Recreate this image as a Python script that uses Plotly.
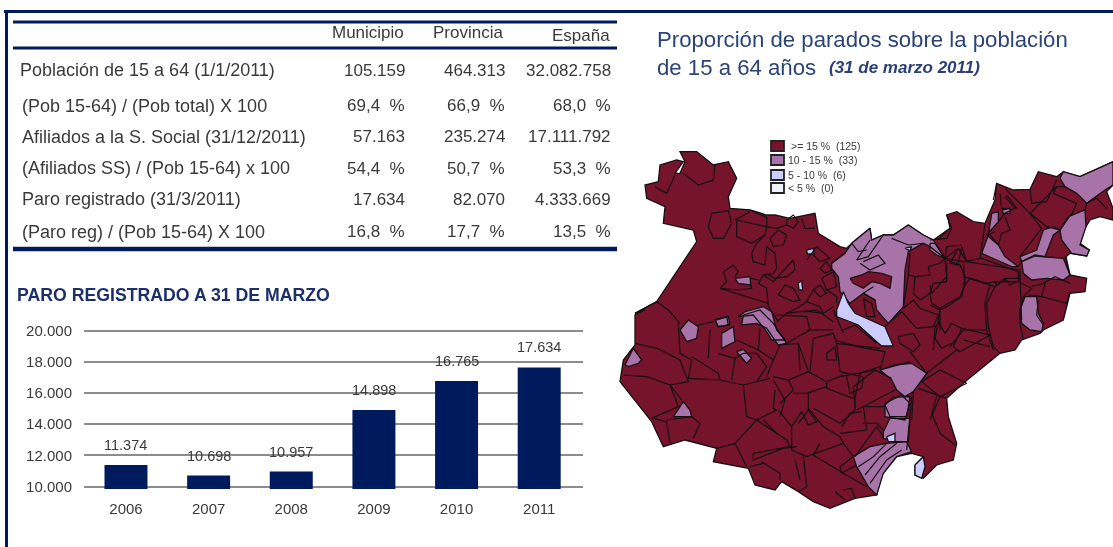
import plotly.graph_objects as go

W, H = 1113, 547
NAVY = "#001a5e"
TXT = "#3a3a3a"
DARK = "#75142b"
MID = "#a873a8"
LIGHT = "#ccccff"
PALE = "#f0f0ff"

# ---------- table ----------
TABLE_HEADERS = ["Municipio", "Provincia", "España"]
ROW_LABELS = ["Población de 15 a 64 (1/1/2011)", "(Pob 15-64) / (Pob total) X 100",
              "Afiliados a la S. Social (31/12/2011)", "(Afiliados SS) / (Pob 15-64) x 100",
              "Paro registrado (31/3/2011)", "(Paro reg) / (Pob 15-64) X 100"]
MUNICIPIO = ["105.159", "69,4  %", "57.163", "54,4  %", "17.634", "16,8  %"]
PROVINCIA = ["464.313", "66,9  %", "235.274", "50,7  %", "82.070", "17,7  %"]
ESPANA = ["32.082.758", "68,0  %", "17.111.792", "53,3  %", "4.333.669", "13,5  %"]

# ---------- bars ----------
YEARS = ["2006", "2007", "2008", "2009", "2010", "2011"]
PARO = [11374, 10698, 10957, 14898, 16765, 17634]
Y_TICKS = [10000, 12000, 14000, 16000, 18000, 20000]

# ---------- legend ----------
LEGEND_LABELS = [">= 15 %  (125)", "10 - 15 %  (33)", "5 - 10 %  (6)", "< 5 %  (0)"]

def view(origin, pts):
    return [(origin[0] + a / 3, origin[1] + b / 3) for a, b in pts]

VW, VC, VE, VS = (630, 140), (830, 220), (930, 150), (610, 310)

OUTLINE = (
    view(VW, [(15,520),(80,485),(140,395),(190,320),(200,305),(190,270),(100,250),(105,200),(50,175),(45,135),
              (85,125),(90,75),(140,60),(160,65),(135,100),(150,100),(165,65),(150,35),(200,35),(250,75),(295,65),
              (320,115),(295,170),(300,205),(360,210),(410,225),(435,225),(480,235),(555,220),(565,280),(630,320)])
    + view(VC, [(50,85),(70,65),(120,25),(125,60),(160,45),(190,45),(235,15),(280,45),(310,60),(360,25),(355,0)])
    + view(VE, [(50,195),(80,185),(130,215),(165,220),(195,150),(200,100),(250,120),(300,118),(325,65),(380,80),
                (400,65),(450,80),(549,35),(549,105),(530,125),(549,175),(549,210),(510,200),(480,210),(465,235),
                (450,280),(478,300),(470,318),(420,310),(408,320),(420,375),(470,385),(465,425),(420,430),(400,510),
                (340,540),(330,550),(275,570),(255,600)])
    + view(VS, [(1170,130),(1065,215),(1010,265),(1015,320),(1040,400),(1030,450),(980,465),(940,505),(915,495),
                (915,465),(940,440),(905,430),(860,440),(815,495),(800,555),(735,565),(660,595),(610,575),(565,545),
                (515,515),(495,540),(435,525),(415,475),(310,455),(320,415),(225,390),(160,410),(125,335),(30,215),
                (40,150),(75,105),(75,15),(105,0)])
)

MID_AREAS = [
    view(VE, [(390,85),(400,65),(450,80),(549,35),(549,105),(525,120),(470,160),(440,130),(405,110)]),
    view(VE, [(390,240),(415,200),(465,180),(468,230),(450,285),(478,300),(470,318),(425,310),(395,270)]),
    view(VE, [(270,320),(320,300),(340,240),(370,230),(390,240),(370,255),(345,320),(315,315),(275,335)]),
    view(VE, [(275,335),(315,318),(400,325),(420,375),(400,390),(350,385),(305,390),(280,370)]),
    view(VE, [(155,310),(175,255),(185,190),(205,185),(205,215),(170,255),(205,285),(225,320),(265,350),(245,350),(200,330)]),
    view(VE, [(215,180),(240,175),(240,190),(220,190)]),
    view(VE, [(270,480),(285,440),(320,440),(325,490),(340,520),(335,545),(300,540),(275,520)]),
    view(VE, [(0,280),(15,280),(45,325),(20,315),(0,300)]),
    view(VC, [(5,130),(45,100),(65,70),(120,25),(125,60),(160,45),(190,45),(235,15),(280,45),(310,60),(345,115),
              (300,80),(280,70),(235,95),(225,150),(220,260),(175,310),(140,270),(135,240),(100,220),(60,250),(30,215),(25,170),(5,145)]),
    view(VC, [(150,450),(195,435),(245,430),(290,460),(250,515),(225,530),(200,510),(185,480)]),
    view(VC, [(165,550),(215,525),(240,550),(225,600),(165,590)]),
    view(VW, [(315,415),(360,410),(362,435),(325,430)]),
    view(VW, [(255,540),(295,530),(300,555),(265,560)]),
    view(VW, [(325,530),(345,515),(400,500),(425,515),(440,570),(465,600),(425,600),(410,575),(370,525)]),
    view(VS, [(210,60),(235,30),(265,50),(260,85),(230,95)]),
    view(VS, [(315,30),(350,20),(355,45),(325,50)]),
    view(VS, [(335,70),(370,50),(375,95),(335,115)]),
    view(VS, [(380,125),(400,118),(425,145),(410,160)]),
    view(VS, [(45,165),(70,115),(95,150),(85,160),(55,170)]),
    view(VS, [(190,320),(220,275),(240,300),(245,320)]),
    view(VS, [(400,15),(450,0),(490,40),(530,100),(505,105),(470,55),(440,40),(395,45)]),
    view(VS, [(825,285),(850,262),(900,260),(890,320),(840,320)]),
    view(VS, [(820,365),(840,325),(900,325),(895,395),(860,395),(820,385)]),
    view(VS, [(730,440),(780,410),(830,400),(890,395),(905,425),(860,440),(820,490),(800,555),(775,530),(740,470)]),
]
DARK_ISLANDS = [
    view(VC, [(60,175),(95,165),(115,155),(155,160),(185,170),(180,205),(150,190),(125,185),(100,205),(70,190)]),
    view(VC, [(100,235),(125,250),(135,290),(110,290)]),
]
LIGHT_AREAS = [
    view(VC, [(40,215),(20,270),(20,290),(85,315),(140,365),(155,378),(190,378),(165,320),(120,300),(75,280),(55,250)]),
    view(VC, [(225,85),(245,80),(240,92)]),
    view(VW, [(530,330),(550,325),(552,342),(532,342)]),
    view(VW, [(505,430),(515,422),(518,450),(507,450)]),
    view(VS, [(830,380),(855,370),(855,395),(835,395)]),
    view(VS, [(915,465),(940,440),(945,470),(935,505),(915,495)]),
]
BORDERS_W = [
    [(160,100),(205,135),(250,120),(255,75)], [(75,140),(110,160),(135,105)],
    [(245,220),(295,212),(305,250),(280,295),(250,295),(235,260),(245,220)],
    [(320,240),(410,260),(405,285),(365,310),(320,290),(320,240)], [(315,240),(360,215)], [(360,210),(410,232),(410,260)],
    [(420,295),(445,270),(470,285),(460,315),(430,320),(420,295)], [(470,240),(490,225),(505,245),(490,265),(470,255),(470,240)],
    [(515,235),(525,265),(555,265)], [(410,260),(440,265),(470,255)],
    [(405,285),(380,310),(365,340),(370,365),(405,375),(410,320),(435,340),(440,385),(430,400),(400,405),(385,430),(410,445),(415,500)],
    [(270,445),(290,425),(280,395),(310,375),(325,395),(315,410)], [(270,445),(320,460),(415,490)], [(362,415),(385,420)],
    [(362,435),(365,445),(320,450),(270,445)], [(15,520),(80,485),(115,510),(150,550)], [(205,555),(250,545)],
    [(400,405),(430,425),(490,360),(495,390),(470,410),(435,415),(405,400)],
    [(445,465),(465,435),(490,445),(510,480),(490,485),(465,475),(445,465)],
    [(530,360),(560,320),(600,355),(570,365),(550,345)], [(570,385),(590,365),(605,390),(585,400),(570,385)],
    [(575,415),(610,395),(620,440),(590,450),(575,415)], [(550,450),(570,435),(590,460),(570,470),(550,450)],
    [(500,505),(530,485),(570,500),(580,520),(540,515),(510,515)], [(440,545),(470,520),(510,515),(560,510),(610,545)],
    [(415,500),(445,545)], [(470,520),(500,505)], [(590,450),(620,470),(620,490)], [(530,485),(550,450)], [(610,500),(580,520)],
]
BORDERS_S = [
    [(75,100),(140,115),(210,150),(235,215),(180,225)], [(205,40),(210,130),(245,150),(235,205)],
    [(40,195),(110,200),(180,225),(215,270)], [(180,225),(205,290),(125,325)], [(130,325),(170,335),(180,400)],
    [(170,330),(245,320),(270,340),(250,385)], [(235,205),(330,210),(400,225),(440,215),(480,205)],
    [(245,140),(325,190),(330,210)], [(295,145),(300,60)], [(325,130),(375,145),(365,210)],
    [(375,145),(400,130),(440,130),(470,170),(440,215)], [(380,90),(445,120)], [(450,55),(445,120),(490,150),(470,200)],
    [(490,150),(510,105),(565,100),(595,185),(535,210),(490,200)], [(565,100),(570,180)], [(610,85),(600,185)],
    [(610,85),(670,70),(680,100),(810,115)], [(680,100),(690,185),(755,200)], [(650,130),(675,110),(680,150),(650,150),(650,130)],
    [(530,100),(600,60),(590,20),(500,15)], [(590,60),(670,60)], [(670,0),(700,70)], [(700,60),(735,45),(800,100)],
    [(810,170),(750,190),(735,265)], [(595,185),(650,215),(700,195)], [(650,215),(650,235),(730,265)],
    [(710,200),(720,250),(755,235),(760,200)], [(535,210),(550,240),(510,280)], [(490,210),(525,270),(510,320)],
    [(400,225),(410,320),(440,330),(500,300)], [(495,240),(490,295),(500,300)], [(595,245),(595,300),(565,340)],
    [(550,250),(590,250),(650,230)], [(595,295),(640,350),(690,380)], [(505,300),(545,350),(575,305)],
    [(575,305),(595,345),(620,335),(595,300)], [(610,295),(690,340),(735,300),(735,265)], [(440,330),(375,400),(410,470)],
    [(440,330),(530,390),(540,410),(430,430),(430,450),(520,415),(560,410)], [(545,350),(545,420),(590,440),(700,400),(690,380)],
    [(375,400),(320,415)], [(460,330),(500,370)], [(460,460),(420,470)], [(455,455),(510,490),(510,510)], [(555,450),(570,510)],
    [(580,440),(590,530),(565,545)], [(610,435),(630,400)], [(610,435),(700,490),(770,530)], [(700,400),(730,440),(690,470),(695,490)],
    [(695,490),(740,465)], [(700,540),(725,535),(735,565)], [(675,545),(705,570)], [(690,370),(770,360),(760,290),(825,290)],
    [(695,350),(720,310),(755,305)], [(760,340),(800,340),(820,360)], [(735,440),(800,350),(820,380)],
    [(925,235),(1010,265)], [(980,260),(965,310),(990,370),(1035,405)], [(905,260),(890,420)],
    [(745,470),(790,440),(830,400)], [(765,495),(810,440),(860,400)], [(780,520),(830,450),(875,420)],
]
BORDERS_C = [
    [(15,360),(80,380),(165,395)], [(165,395),(150,450),(240,425)], [(165,320),(215,275),(260,325)],
    [(205,350),(250,340),(270,375),(250,395),(210,370),(205,350)], [(260,325),(310,320),(325,285)],
    [(325,285),(270,265),(250,240),(220,265)], [(220,265),(235,165),(255,170),(300,165),(295,140),(330,130),(345,115)],
    [(255,170),(250,220),(270,240),(300,220),(310,190),(350,185),(350,130)], [(240,100),(235,165)],
    [(300,220),(305,250),(330,265),(390,230),(405,195),(400,125),(345,115)], [(345,115),(385,85),(410,125)],
    [(385,85),(360,130),(385,135)], [(410,125),(570,150)], [(360,25),(320,60)],
    [(405,195),(420,175),(495,200),(470,250),(475,320),(490,380),(510,400)], [(420,175),(465,190)],
    [(495,200),(530,175),(570,175),(570,150)], [(570,175),(575,300)], [(330,265),(325,305),(345,340),(365,310),(395,325),(480,345)],
    [(325,305),(315,355),(335,385),(365,370)], [(395,325),(370,380),(390,395),(480,345)], [(290,460),(380,390)], [(240,395),(290,460)],
    [(290,460),(275,485),(330,530),(410,490)], [(275,485),(330,450),(410,490)], [(250,515),(245,600)], [(330,530),(300,600)],
    [(185,475),(135,450),(70,500),(75,560)], [(135,450),(60,465),(30,470)], [(195,510),(80,570)],
    [(5,130),(45,100)], [(65,70),(85,95),(110,90)], [(120,60),(80,120),(115,110),(160,45)], [(100,125),(145,105),(165,130),(120,150),(90,130)],
    [(185,55),(235,75),(280,70)], [(135,240),(100,220),(130,200)],
]
BORDERS_E = [
    [(225,115),(300,190),(335,235),(270,320)], [(300,190),(380,110),(405,110)], [(300,118),(305,160),(350,155),(380,90)],
    [(200,100),(190,150)], [(210,130),(215,175),(240,175)], [(225,140),(255,175),(225,190),(205,215)], [(230,135),(260,175)],
    [(380,110),(370,130),(440,160),(425,195)], [(300,190),(350,230),(390,240),(425,190)], [(470,160),(500,145),(530,175)],
    [(465,180),(470,160)], [(180,255),(205,285),(215,250),(240,240),(225,200)], [(175,255),(195,245)], [(150,325),(165,222)],
    [(100,335),(155,325),(265,365)], [(85,340),(95,290),(110,335)], [(45,325),(50,290),(95,285)],
    [(50,195),(65,235),(50,265),(0,270)], [(50,330),(90,345),(105,380)], [(265,365),(265,395),(305,415),(280,440)],
    [(265,395),(195,395),(170,400),(100,380)], [(195,395),(200,405),(225,385),(240,405),(260,395)],
    [(305,410),(340,400),(375,380),(420,400)], [(345,400),(335,440),(410,460),(420,425)], [(295,435),(335,440)],
    [(325,450),(320,495),(340,525)], [(420,375),(405,320)], [(265,350),(275,335)], [(280,440),(270,480),(270,520),(280,570)],
    [(180,405),(165,460),(170,540),(100,540),(60,590)], [(105,385),(95,440),(50,470),(30,480),(30,540)],
    [(45,325),(50,380),(5,430),(0,405)], [(30,480),(0,465)], [(30,520),(15,530),(10,600)], [(170,540),(190,600)], [(100,570),(180,590)],
]

def join(paths, close=False):
    xs, ys = [], []
    for p in paths:
        xs += [q[0] for q in p]
        ys += [q[1] for q in p]
        if close:
            xs.append(p[0][0]); ys.append(p[0][1])
        xs.append(None); ys.append(None)
    return xs, ys

def px(x):
    return x / W

def py(y):
    return 1 - y / H

fig = go.Figure()

# ---------- bars ----------
fig.add_bar(x=YEARS, y=PARO, base=0, marker=dict(color=NAVY, line_width=0), width=0.52,
            xaxis="x", yaxis="y", showlegend=False)

# ---------- map ----------
def area(paths, color):
    xs, ys = join(paths, close=True)
    fig.add_scatter(x=xs, y=ys, mode="lines", fill="toself", fillcolor=color,
                    line=dict(color="#161013", width=1.3), xaxis="x2", yaxis="y2",
                    showlegend=False, hoverinfo="skip")

area([OUTLINE], DARK)
area(MID_AREAS, MID)
area(DARK_ISLANDS, DARK)
area(LIGHT_AREAS, LIGHT)
for origin, group in ((VW, BORDERS_W), (VS, BORDERS_S), (VC, BORDERS_C), (VE, BORDERS_E)):
    xs, ys = join([view(origin, p) for p in group])
    fig.add_scatter(x=xs, y=ys, mode="lines", line=dict(color="#161013", width=1.2),
                    xaxis="x2", yaxis="y2", showlegend=False, hoverinfo="skip", connectgaps=False)

ann = []
def text(x, y, s, size, color=TXT, anchor="left", bold=False, italic=False):
    if bold:
        s = f"<b>{s}</b>"
    if italic:
        s = f"<i>{s}</i>"
    ann.append(dict(x=px(x), y=py(y), xref="paper", yref="paper", text=s, showarrow=False,
                    xanchor=anchor, yanchor="middle", align=anchor, borderpad=0, borderwidth=0,
                    font=dict(size=size, color=color, family="Liberation Sans, Arial, sans-serif")))

shapes = []
def rule(x0, y0, x1, y1, width, color=NAVY):
    shapes.append(dict(type="line", xref="paper", yref="paper", x0=px(x0), y0=py(y0), x1=px(x1), y1=py(y1),
                       line=dict(color=color, width=width)))

rule(4, 11.5, 1113, 11.5, 3)
rule(6.5, 11, 6.5, 547, 3)
rule(13, 22, 617, 22, 3)
rule(13, 48, 617, 48, 3)
rule(13, 249, 617, 249, 4.5)

for x, h in zip([404, 503, 610], TABLE_HEADERS):
    text(x, 33 if h != "España" else 35, h, 17, anchor="right")
ROW_Y = [70, 106, 137, 168, 199, 232]
for i, (yy, lab) in enumerate(zip(ROW_Y, ROW_LABELS)):
    text(20 if i == 0 else 22, yy, lab, 18)
    text(405, yy, MUNICIPIO[i], 17, anchor="right")
    text(505, yy, PROVINCIA[i], 17, anchor="right")
    text(611, yy, ESPANA[i], 17, anchor="right")

text(17, 295, "PARO REGISTRADO A 31 DE MARZO", 17.7, color="#1b2f6b", bold=True)
text(657, 40, "Proporción de parados sobre la población", 22.2, color="#2b4478")
text(657, 67, "de 15 a 64 años", 22.2, color="#2b4478")
text(829, 67, "(31 de marzo 2011)", 17, color="#2b3f78", bold=True, italic=True)

# bar value labels, from the data (positioned by category index on the bar axis)
for idx, v in enumerate(PARO):
    ann.append(dict(x=idx, y=v, xref="x", yref="y", text=f"{v:,}".replace(",", "."), showarrow=False,
                    yanchor="bottom", yshift=10, font=dict(size=14.5, color=TXT, family="Liberation Sans, Arial, sans-serif")))

# map legend
SWATCH_Y = [146, 160, 175, 188]
for yy, lab, col, lx in zip(SWATCH_Y, LEGEND_LABELS, [DARK, MID, LIGHT, PALE], [791, 788, 788, 788]):
    shapes.append(dict(type="rect", xref="paper", yref="paper", x0=px(771), x1=px(784), y0=py(yy - 5), y1=py(yy + 5),
                       fillcolor=col, line=dict(color="#222", width=1.8)))
    text(lx, yy, lab, 10.5)

axis_font = dict(size=15, color=TXT, family="Liberation Sans, Arial, sans-serif")
fig.update_layout(
    width=W, height=H, margin=dict(l=0, r=0, t=0, b=0, pad=0, autoexpand=False), autosize=False,
    paper_bgcolor="white", plot_bgcolor="rgba(0,0,0,0)", showlegend=False, separators=",.",
    annotations=ann, shapes=shapes, bargap=0.48,
    xaxis=dict(domain=[px(84), px(583)], type="category", range=[-0.508, 5.53], showgrid=False, showline=False,
               ticks="", tickfont=axis_font, ticklabelstandoff=9, anchor="y", automargin=False),
    yaxis=dict(domain=[py(488.9), py(328.1)], range=[9846, 20154], tickvals=Y_TICKS, tickformat=",d",
               gridcolor="#8c8c8c", gridwidth=1.6, zeroline=False, showline=False, ticks="", tickfont=axis_font,
               ticklabelstandoff=11, anchor="x", automargin=False),
    xaxis2=dict(domain=[px(618), 1], range=[618, 1113], visible=False, anchor="y2"),
    yaxis2=dict(domain=[py(512), py(140)], range=[512, 140], visible=False, anchor="x2"),
)
fig.write_html("out.html", config={"displayModeBar": False},
               post_script="document.documentElement.style.margin='0';document.body.style.margin='0';document.body.style.padding='0';document.body.style.overflow='hidden';document.body.style.filter='blur(0.45px)';")
